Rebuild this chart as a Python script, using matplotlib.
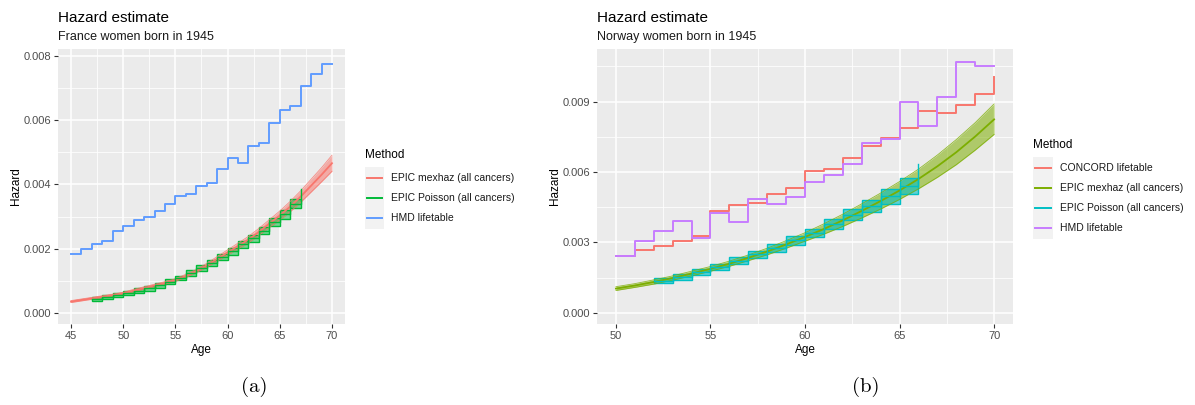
import numpy as np
import matplotlib
matplotlib.use("Agg")
import matplotlib.pyplot as plt
from matplotlib.patches import Rectangle
from matplotlib.lines import Line2D
from matplotlib.ticker import FormatStrFormatter, MultipleLocator

plt.rcParams['font.family'] = ['Liberation Sans', 'DejaVu Sans']

# ---- (a) France women born in 1945 ----
fr_age = np.arange(45, 71)
fr_hmd = [0.00184, 0.00198, 0.00214, 0.00224, 0.00256, 0.00271, 0.00288, 0.00299,
          0.00316, 0.00338, 0.00364, 0.00370, 0.00395, 0.00404, 0.00449, 0.00482,
          0.00467, 0.00520, 0.00529, 0.00591, 0.00633, 0.00645, 0.00707, 0.00745, 0.00776]
fr_mex = [0.00035, 0.00040, 0.00045, 0.00050, 0.00055, 0.00061, 0.00069, 0.00077, 0.00085,
          0.00093, 0.00102, 0.00115, 0.00130, 0.00148, 0.00168, 0.00188, 0.00208, 0.00228,
          0.00252, 0.00278, 0.00303, 0.00331, 0.00362, 0.00396, 0.00430, 0.00466]
fr_mex_lo = [0.00032, 0.00037, 0.00042, 0.00047, 0.00052, 0.00058, 0.00065, 0.00073, 0.00081,
             0.00089, 0.00098, 0.00110, 0.00125, 0.00142, 0.00161, 0.00180, 0.00199, 0.00218,
             0.00241, 0.00266, 0.00289, 0.00315, 0.00344, 0.00376, 0.00408, 0.00441]
fr_mex_hi = [0.00038, 0.00043, 0.00048, 0.00053, 0.00058, 0.00064, 0.00073, 0.00081, 0.00089,
             0.00097, 0.00106, 0.00120, 0.00135, 0.00154, 0.00175, 0.00196, 0.00217, 0.00238,
             0.00263, 0.00290, 0.00317, 0.00347, 0.00380, 0.00416, 0.00452, 0.00491]
fr_poi_age = np.arange(47, 68)
fr_poi = [0.00043, 0.00049, 0.00055, 0.00062, 0.00069, 0.00076, 0.00085, 0.00097, 0.00109,
          0.00124, 0.00139, 0.00154, 0.00173, 0.00192, 0.00213, 0.00232, 0.00256, 0.00283,
          0.00307, 0.00339, 0.00385]
fr_poi_lo = [0.00037, 0.00043, 0.00049, 0.00056, 0.00062, 0.00069, 0.00078, 0.00090, 0.00102,
             0.00116, 0.00130, 0.00145, 0.00163, 0.00181, 0.00202, 0.00221, 0.00244, 0.00270,
             0.00293, 0.00325]
fr_poi_hi = [0.00049, 0.00055, 0.00061, 0.00068, 0.00076, 0.00083, 0.00092, 0.00104, 0.00116,
             0.00132, 0.00148, 0.00163, 0.00183, 0.00203, 0.00224, 0.00243, 0.00268, 0.00296,
             0.00321, 0.00353]

# ---- (b) Norway women born in 1945 ----
no_age = np.arange(50, 71)
no_concord = [0.00242, 0.00266, 0.00284, 0.00307, 0.00327, 0.00435, 0.00460, 0.00466, 0.00507,
              0.00530, 0.00606, 0.00614, 0.00660, 0.00710, 0.00743, 0.00787, 0.00860, 0.00852,
              0.00885, 0.00931, 0.01003]
no_hmd = [0.00240, 0.00306, 0.00347, 0.00392, 0.00318, 0.00426, 0.00385, 0.00483, 0.00463,
          0.00494, 0.00558, 0.00587, 0.00634, 0.00722, 0.00739, 0.00899, 0.00796, 0.00919,
          0.01068, 0.01052]
no_mex = [0.00103, 0.00116, 0.00131, 0.00148, 0.00167, 0.00187, 0.00209, 0.00234, 0.00261,
          0.00291, 0.00323, 0.00357, 0.00394, 0.00434, 0.00476, 0.00521, 0.00570, 0.00624,
          0.00684, 0.00751, 0.00824]
no_mex_lo = [0.00095, 0.00108, 0.00122, 0.00139, 0.00157, 0.00177, 0.00198, 0.00222, 0.00247,
             0.00275, 0.00305, 0.00335, 0.00368, 0.00404, 0.00442, 0.00483, 0.00528, 0.00577,
             0.00631, 0.00693, 0.00760]
no_mex_hi = [0.00111, 0.00124, 0.00140, 0.00157, 0.00177, 0.00197, 0.00220, 0.00246, 0.00275,
             0.00307, 0.00341, 0.00379, 0.00420, 0.00464, 0.00510, 0.00559, 0.00612, 0.00672,
             0.00738, 0.00810, 0.00890]
no_poi_age = np.arange(52, 67)
no_poi = [0.00136, 0.00151, 0.00173, 0.00195, 0.00222, 0.00249, 0.00276, 0.00308, 0.00340,
          0.00377, 0.00418, 0.00455, 0.00496, 0.00540, 0.00635]
no_poi_lo = [0.00126, 0.00139, 0.00161, 0.00182, 0.00208, 0.00234, 0.00260, 0.00289, 0.00321,
             0.00356, 0.00396, 0.00428, 0.00464, 0.00505]
no_poi_hi = [0.00147, 0.00163, 0.00185, 0.00208, 0.00236, 0.00264, 0.00293, 0.00327, 0.00359,
             0.00399, 0.00441, 0.00482, 0.00528, 0.00576]

W, H = 1195, 405
fig = plt.figure(figsize=(W / 100, H / 100), dpi=100)


def fx(p):
    return p / W


def fy(p):
    return 1 - p / H


def style(ax, xlim, ylim, xmaj, ymaj):
    ax.set_facecolor('#EBEBEB')
    for s in ax.spines.values():
        s.set_visible(False)
    ax.set_xlim(*xlim)
    ax.set_ylim(*ylim)
    ax.xaxis.set_major_locator(MultipleLocator(xmaj))
    ax.xaxis.set_minor_locator(MultipleLocator(xmaj / 2))
    ax.yaxis.set_major_locator(MultipleLocator(ymaj))
    ax.yaxis.set_minor_locator(MultipleLocator(ymaj / 2))
    ax.yaxis.set_major_formatter(FormatStrFormatter('%.3f'))
    ax.grid(which='major', color='white', lw=1.1)
    ax.grid(which='minor', color='white', lw=0.55)
    ax.set_axisbelow(True)
    ax.tick_params(which='major', length=3, width=0.8, color='#333333',
                   labelsize=8, labelcolor='#4D4D4D', pad=2)
    ax.tick_params(which='minor', length=0)
    ax.set_xlabel('Age', fontsize=8.5, labelpad=2)
    ax.set_ylabel('Hazard', fontsize=8.5, labelpad=1)


def ribbon(ax, x, mid, lo, hi, col):
    ax.fill_between(x, lo, hi, color=col, alpha=0.55, lw=0)
    ax.plot(x, lo, color=col, lw=0.6, alpha=0.8)
    ax.plot(x, hi, color=col, lw=0.6, alpha=0.8)
    ax.plot(x, mid, color=col, lw=1.3)


def boxes(ax, x, mid, lo, hi, col, alpha):
    lo = np.array(lo)
    hi = np.array(hi)
    ax.bar(x[:-1], hi - lo, bottom=lo, width=1, align='edge',
           facecolor=matplotlib.colors.to_rgba(col, alpha), edgecolor=col, lw=1.0)
    ax.plot(x, mid, color=col, lw=1.0, drawstyle='steps-post')


def legend(x0, ytitle, ys, labels, colors, box):
    fig.text(fx(x0), fy(ytitle), 'Method', fontsize=8.5, va='center', ha='left')
    fig.add_artist(Rectangle((fx(box[0]), fy(box[3])), fx(box[2] - box[0]),
                             (box[3] - box[1]) / H, transform=fig.transFigure,
                             facecolor='#F2F2F2', edgecolor='none'))
    for y, lab, c in zip(ys, labels, colors):
        fig.add_artist(Line2D([fx(box[0] + 2), fx(box[2] - 2)], [fy(y), fy(y)],
                              transform=fig.transFigure, color=c, lw=1.4))
        fig.text(fx(box[2] + 7), fy(y), lab, fontsize=7.5, va='center', ha='left',
                 color='#1A1A1A')


# panel (a)
ax1 = fig.add_axes([fx(58), fy(324), (345 - 58) / W, 275 / H])
style(ax1, (43.75, 71.25), (-0.00035, 0.00822), 5, 0.002)
ribbon(ax1, fr_age, fr_mex, fr_mex_lo, fr_mex_hi, '#F8766D')
boxes(ax1, fr_poi_age, fr_poi, fr_poi_lo, fr_poi_hi, '#00BA38', 0.5)
ax1.plot(fr_age, np.append(fr_hmd, fr_hmd[-1]), color='#619CFF', lw=1.4, drawstyle='steps-post')

fig.text(fx(58), fy(22), 'Hazard estimate', fontsize=11, va='baseline')
fig.text(fx(58), fy(40), 'France women born in 1945', fontsize=9, va='baseline', color='#1A1A1A')
legend(365, 155, [178, 198, 218],
       ['EPIC mexhaz (all cancers)', 'EPIC Poisson (all cancers)', 'HMD lifetable'],
       ['#F8766D', '#00BA38', '#619CFF'], (365, 167, 384, 229))

# panel (b)
ax2 = fig.add_axes([fx(597), fy(324), (1013 - 597) / W, 275 / H])
style(ax2, (49, 71), (-0.00048, 0.01124), 5, 0.003)
ax2.plot(no_age, no_concord, color='#F8766D', lw=1.4, drawstyle='steps-post')
ribbon(ax2, no_age, no_mex, no_mex_lo, no_mex_hi, '#7CAE00')
boxes(ax2, no_poi_age, no_poi, no_poi_lo, no_poi_hi, '#00BFC4', 0.6)
ax2.plot(no_age, np.append(no_hmd, no_hmd[-1]), color='#C77CFF', lw=1.4, drawstyle='steps-post')

fig.text(fx(597), fy(22), 'Hazard estimate', fontsize=11, va='baseline')
fig.text(fx(597), fy(40), 'Norway women born in 1945', fontsize=9, va='baseline', color='#1A1A1A')
legend(1033, 145, [168, 188, 208, 228],
       ['CONCORD lifetable', 'EPIC mexhaz (all cancers)', 'EPIC Poisson (all cancers)', 'HMD lifetable'],
       ['#F8766D', '#7CAE00', '#00BFC4', '#C77CFF'], (1033, 157, 1053, 239))

# captions
fig.text(fx(254), fy(387), '(a)', fontsize=15, family='cmr10', ha='center', va='center')
fig.text(fx(866), fy(387), '(b)', fontsize=15, family='cmr10', ha='center', va='center')

fig.savefig('out.png', dpi=100, facecolor='white')
